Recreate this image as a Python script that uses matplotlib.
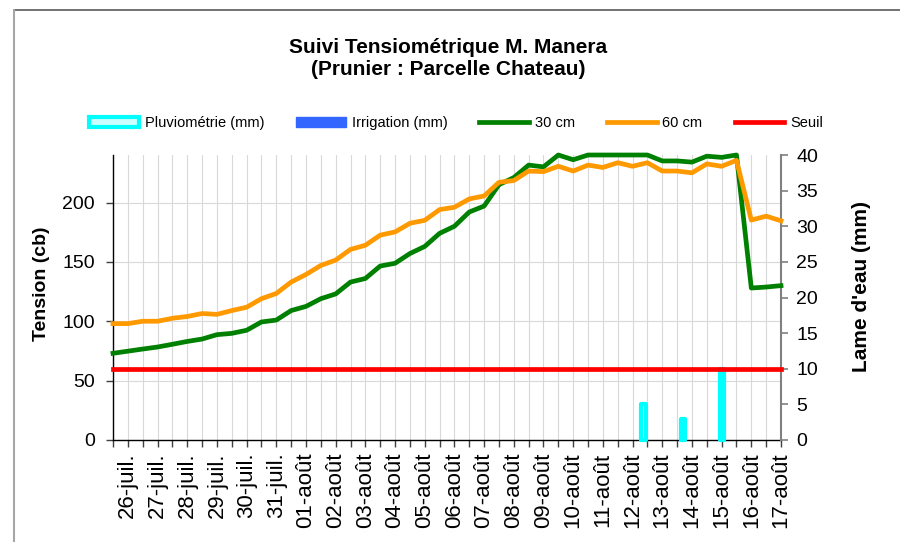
import numpy as np
import matplotlib
matplotlib.use("Agg")
import matplotlib.pyplot as plt
from matplotlib.patches import Patch
from matplotlib.lines import Line2D

plt.rcParams['font.family'] = ['Liberation Sans', 'DejaVu Sans']

# ---------------- data ----------------
dates = ['26-juil.', '27-juil.', '28-juil.', '29-juil.', '30-juil.', '31-juil.',
         '01-août', '02-août', '03-août', '04-août', '05-août', '06-août',
         '07-août', '08-août', '09-août', '10-août', '11-août', '12-août',
         '13-août', '14-août', '15-août', '16-août', '17-août']

tension_30cm = [73, 74.8, 76.6, 78.3, 80.6, 83, 85, 88.7, 89.8, 92.4,
                99.4, 101, 109, 112.5, 119, 123, 133, 136, 146.5, 148.8,
                157, 163, 174, 180, 192, 197, 215, 221, 231.5, 230,
                240, 236, 240, 240, 240, 240, 240, 235, 235, 234,
                239, 238, 240, 128, 128.8, 130]

tension_60cm = [98, 98, 100, 100, 102.5, 104, 106.5, 105.8, 109, 111.8,
                119, 123.4, 133, 139.4, 147, 151.5, 160.5, 164, 172.5, 175.2,
                182.5, 185, 194, 196, 203, 205.5, 217, 218.5, 226.5, 226,
                230.5, 226.5, 231.5, 229.5, 233.5, 230.5, 233.5, 226.5, 226.5, 225,
                232.5, 230.5, 235.5, 185.2, 188.5, 184.6]

seuil_cb = 60

pluviometrie_mm = [0, 0, 0, 0, 0, 0, 0, 0, 0, 0, 0, 0, 0, 5, 3, 10, 0]
irrigation_mm = [0, 0, 0, 0, 0, 0, 0, 0, 0, 0, 0, 0, 0, 0, 0, 0, 0]

tension_ticks = [0, 50, 100, 150, 200]
lame_ticks = [0, 5, 10, 15, 20, 25, 30, 35, 40]

# ---------------- figure ----------------
fig = plt.figure(figsize=(9, 5.42), dpi=100)
rect = [113 / 900, 1 - 440 / 542, 668 / 900, 285 / 542]

n = len(tension_30cm)
x = np.arange(n)

# base axes: grid, left axis, category axis
ax = fig.add_axes(rect)
ax.set_xlim(0, n - 1)
ax.set_ylim(0, 240)
ax.set_yticks(tension_ticks)
labels = [''] * n
labels[1::2] = dates
ax.set_xticks(x)
ax.set_xticklabels(labels, rotation=90, fontsize=16, ha='center', va='top')
ax.tick_params(axis='x', direction='out', length=5, width=1, color='#404040', pad=4)
ax.tick_params(axis='y', direction='out', length=5, width=1, color='#404040',
               labelsize=14, pad=8)
ax.grid(True, color='#D9D9D9', lw=0.8)
ax.set_axisbelow(True)
for s in ['top', 'right']:
    ax.spines[s].set_visible(False)
ax.spines['left'].set_color('black')
ax.spines['bottom'].set_color('black')
ax.spines['left'].set_linewidth(1.0)
ax.spines['bottom'].set_linewidth(1.0)
ax.set_ylabel('Tension (cb)', fontsize=14, fontweight='bold')
ax.yaxis.set_label_coords(-(113 - 50) / 668, 0.547)

# bar axes: rain / irrigation on secondary axes
axb = fig.add_axes(rect, facecolor='none')
nb = len(pluviometrie_mm)
xb = np.arange(nb)
axb.set_xlim(-0.5, nb - 0.5)
axb.set_ylim(0, 40)
pl = np.array(pluviometrie_mm, dtype=float)
ir = np.array(irrigation_mm, dtype=float)
m = pl > 0
axb.bar(xb[m], pl[m], width=0.115, color='#CCFFFF', edgecolor='#00FFFF',
        linewidth=3, joinstyle='round', clip_on=False)
mi = ir > 0
axb.bar(xb[mi] + 0.2, ir[mi], width=0.115, color='#3366FF', edgecolor='#3366FF',
        clip_on=False)
axb.xaxis.set_visible(False)
axb.yaxis.tick_right()
axb.yaxis.set_label_position('right')
axb.set_yticks(lame_ticks)
axb.tick_params(axis='y', direction='out', length=5, width=1.2, color='#808080',
                labelsize=14, pad=6)
for s in ['top', 'left', 'bottom']:
    axb.spines[s].set_visible(False)
axb.spines['right'].set_color('#808080')
axb.spines['right'].set_linewidth(1.5)
axb.set_ylabel("Lame d'eau (mm)", fontsize=15, fontweight='bold', labelpad=0)
axb.yaxis.set_label_coords(1 + (852 - 781) / 668, 0.54)

# line axes on top
axl = fig.add_axes(rect, sharex=ax, sharey=ax, facecolor='none')
axl.axis('off')
axl.plot(x, tension_30cm, color='#008000', lw=3.4, solid_joinstyle='round', clip_on=False)
axl.plot(x, tension_60cm, color='#FF9900', lw=3.4, solid_joinstyle='round', clip_on=False)
axl.plot(x, np.full(n, seuil_cb), color='#FF0000', lw=3.4, clip_on=False)

# title
fig.text(0.498, 1 - 58.5 / 542, 'Suivi Tensiométrique M. Manera\n(Prunier : Parcelle Chateau)',
         ha='center', va='center', fontsize=15, fontweight='bold', linespacing=1.15)

# legend
handles = [Patch(facecolor='#CCFFFF', edgecolor='#00FFFF', linewidth=3),
           Patch(facecolor='#3366FF', edgecolor='#3366FF'),
           Line2D([], [], color='#008000', lw=3.4),
           Line2D([], [], color='#FF9900', lw=3.4),
           Line2D([], [], color='#FF0000', lw=3.4)]
leg_labels = ['Pluviométrie (mm)', 'Irrigation (mm)', '30 cm', '60 cm', 'Seuil']
fig.legend(handles, leg_labels, ncol=5, loc='center',
           bbox_to_anchor=(456 / 900, 1 - 123 / 542), frameon=False,
           fontsize=10.5, handlelength=3.4, columnspacing=2.2, handletextpad=0.4)

# chart frame
fig.add_artist(Line2D([14 / 900, 1], [1 - 10 / 542, 1 - 10 / 542],
                      transform=fig.transFigure, color='#595959', lw=1.2))
fig.add_artist(Line2D([14 / 900, 14 / 900], [0, 1 - 10 / 542],
                      transform=fig.transFigure, color='#A6A6A6', lw=1.5))

fig.savefig('out.png', dpi=100)
